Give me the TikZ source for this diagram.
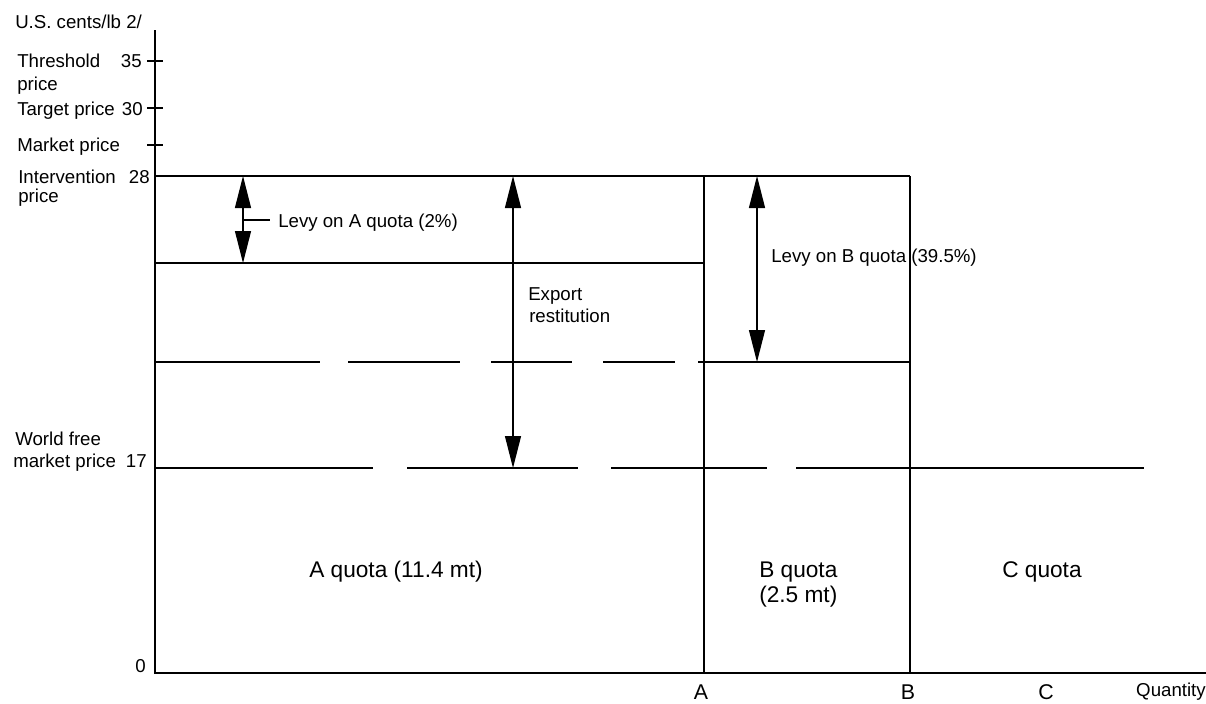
\documentclass[tikz,border=0pt]{standalone}
\usepackage{fontspec}
\setmainfont{Liberation Sans}
\usetikzlibrary{arrows.meta}
\begin{document}
\begin{tikzpicture}[x=0.75pt,y=-0.75pt,
  rule/.style={line width=1.1pt},
  dimarrow/.style={line width=0.9pt,{Triangle[length=24pt,width=12pt]}-{Triangle[length=24pt,width=12pt]}},
  lbl/.style={font=\fontsize{14}{16}\selectfont, inner sep=0pt, anchor=base west},
  lble/.style={font=\fontsize{14}{16}\selectfont, inner sep=0pt, anchor=base east},
  lblc/.style={font=\fontsize{16}{18}\selectfont, inner sep=0pt, anchor=base},
  quota/.style={font=\fontsize{17}{20}\selectfont, inner sep=0pt, anchor=base west},
]
\useasboundingbox (0,0) rectangle (1206,703);
% axes
\coordinate (O) at (155,673);
\coordinate (ytop) at (155,30);
\coordinate (xend) at (1206,673);
\draw[rule] (ytop) -- (O) -- (xend);
% ticks
\draw[rule] (147,61) -- (163,61);
\draw[rule] (147,108) -- (163,108);
\draw[rule] (147,145) -- (163,145);
% quota boxes
\coordinate (I0) at (155,176);
\coordinate (IA) at (704,176);
\coordinate (IB) at (910,176);
\coordinate (A0) at (704,673);
\coordinate (B0) at (910,673);
\draw[rule] (I0) -- (IB);
\draw[rule] (IA) -- (A0);
\draw[rule] (IB) -- (B0);
\draw[rule] (155,263) -- (704,263);
% broken line at 362
\draw[rule] (155,362) -- (320,362) (348,362) -- (460,362) (491,362) -- (572,362)
  (603,362) -- (675,362) (698,362) -- (910,362);
% broken line at 468 (world price)
\draw[rule] (155,468) -- (373,468) (407,468) -- (578,468) (611,468) -- (767,468)
  (796,468) -- (1144,468);
% arrows
\coordinate (la1) at (243,176); \coordinate (la2) at (243,263);
\coordinate (er1) at (513,176); \coordinate (er2) at (513,468);
\coordinate (lb1) at (757,176); \coordinate (lb2) at (757,362);
\draw[dimarrow] (la1) -- (la2);
\draw[dimarrow] (er1) -- (er2);
\draw[dimarrow] (lb1) -- (lb2);
% labels
\node[lbl] (units) at (15,28) {U.S. cents/lb 2/};
\node[lbl] (thr) at (17,67) {Threshold};
\node[lble] (n35) at (142,67) {35};
\node[lbl] (thr2) at (17,90) {price};
\node[lbl] (tgt) at (17,115) {Target price};
\node[lble] (n30) at (143,115) {30};
\node[lbl] (mkt) at (17,151) {Market price};
\node[lbl] (int) at (18,183) {Intervention};
\node[lble] (n28) at (150,183) {28};
\node[lbl] (int2) at (18,202) {price};
\node[lbl] (wld) at (15,445) {World free};
\node[lbl] (wld2) at (13,467) {market price};
\node[lble] (n17) at (147,467) {17};
\node[lble] (n0) at (146,672) {0};
\node[lblc] (xa) at (701,699) {A};
\node[lblc] (xb) at (908,699) {B};
\node[lblc] (xc) at (1046,699) {C};
\node[lble] (xq) at (1206,696) {Quantity};
\node[lbl] (levyA) at (278,227) {Levy on A quota (2\%)};
\coordinate (levyAm) at (243,220);
\draw[line width=0.8pt] (levyAm) -- ([xshift=-6pt]levyA.west |- levyAm);
\node[lbl] (exp) at (528,300) {Export};
\node[lbl] (exp2) at (529,322) {restitution};
\node[lbl] (levyB) at (771,262) {Levy on B quota (39.5\%)};
\node[quota, anchor=base] (qa) at (396,577) {A quota (11.4 mt)};
\node[quota] (qb) at (759,577) {B quota};
\node[quota] (qb2) at (759,602) {(2.5 mt)};
\node[quota] (qc) at (1002,577) {C quota};
\end{tikzpicture}
\end{document}
